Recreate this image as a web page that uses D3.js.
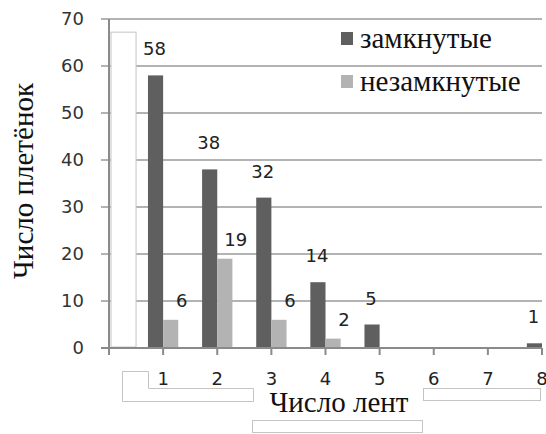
<!DOCTYPE html>
<html>
<head>
<meta charset="utf-8">
<script src="https://cdn.jsdelivr.net/npm/d3@7"></script>
<style>
  html, body { margin: 0; padding: 0; background: #fff; }
  svg { display: block; }
</style>
</head>
<body>
<svg id="chart" width="546" height="434"></svg>
<script>
// ---- data ----
const categories = ["1", "2", "3", "4", "5", "6", "7", "8"];
const closedValues = [58, 38, 32, 14, 5, 0, 0, 1];   // замкнутые
const openValues   = [6, 19, 6, 2, 0, 0, 0, 0];      // незамкнутые
const yTickValues  = [0, 10, 20, 30, 40, 50, 60, 70];
const seriesNames  = ["замкнутые", "незамкнутые"];
const yTitle = "Число плетёнок";
const xTitle = "Число лент";

// ---- layout ----
const svg = d3.select("#chart");
const serif = "'Liberation Serif', 'Times New Roman', serif";
const sans = "'DejaVu Sans', sans-serif";
const colors = ["#5f5f5f", "#b3b3b3"];
const gridColor = "#9a9a9a";
const boxStroke = "#c4c4c4";

const x = d3.scaleLinear().domain([0, categories.length]).range([109, 542]);
const y = d3.scaleLinear().domain([0, 70]).range([348, 19]);
const barW = (x(1) - x(0)) * 0.28;

// gridlines
svg.append("g").selectAll("line").data(yTickValues).join("line")
  .attr("x1", x(0) - 8).attr("x2", x(categories.length))
  .attr("y1", d => y(d)).attr("y2", d => y(d))
  .attr("stroke", gridColor).attr("stroke-width", 1.6);

// decorative white boxes (part of the original picture)
svg.append("rect")
  .attr("x", x(0) + 2).attr("y", y(67.2))
  .attr("width", x(0.5) - x(0) - 2).attr("height", y(0) - y(67.2) - 1)
  .attr("fill", "#fff").attr("stroke", boxStroke).attr("stroke-width", 1);

svg.append("path")
  .attr("d", "M122.5,371.5 H148.5 V388.5 H253.5 V401.5 H122.5 Z")
  .attr("fill", "#fff").attr("stroke", boxStroke).attr("stroke-width", 1);
svg.append("rect")
  .attr("x", 252.5).attr("y", 420.5).attr("width", 170).attr("height", 12)
  .attr("fill", "#fff").attr("stroke", boxStroke).attr("stroke-width", 1);
svg.append("rect")
  .attr("x", 423.5).attr("y", 388.5).attr("width", 117).attr("height", 12)
  .attr("fill", "#fff").attr("stroke", boxStroke).attr("stroke-width", 1);

// bars
const rows = categories.map((c, i) => ({ c, i, v: [closedValues[i], openValues[i]] }));
const g = svg.append("g");
rows.forEach(r => {
  r.v.forEach((v, s) => {
    if (v <= 0) return;
    const cx = x(r.i + 1);
    g.append("rect")
      .attr("x", s === 0 ? cx - barW : cx)
      .attr("y", y(v))
      .attr("width", barW)
      .attr("height", y(0) - y(v))
      .attr("fill", colors[s]);
  });
});

// axes lines
svg.append("line")
  .attr("x1", x(0) - 8).attr("x2", x(categories.length))
  .attr("y1", y(0)).attr("y2", y(0))
  .attr("stroke", "#8a8a8a").attr("stroke-width", 2);
svg.append("line")
  .attr("x1", x(0)).attr("x2", x(0))
  .attr("y1", y(70)).attr("y2", y(0) + 7)
  .attr("stroke", "#8a8a8a").attr("stroke-width", 2);

// x ticks
svg.append("g").selectAll("line").data(d3.range(0, categories.length + 1)).join("line")
  .attr("x1", d => x(d)).attr("x2", d => x(d))
  .attr("y1", y(0)).attr("y2", y(0) + 7)
  .attr("stroke", "#8a8a8a").attr("stroke-width", 2);

// y tick labels
svg.append("g").selectAll("text").data(yTickValues).join("text")
  .attr("x", 84).attr("y", d => y(d))
  .attr("dy", "0.36em")
  .attr("text-anchor", "end")
  .attr("font-family", sans).attr("font-size", 18)
  .attr("fill", "#333")
  .text(d => d);

// x tick labels
svg.append("g").selectAll("text").data(categories).join("text")
  .attr("x", (d, i) => x(i + 1)).attr("y", 385)
  .attr("text-anchor", "middle")
  .attr("font-family", sans).attr("font-size", 18)
  .attr("fill", "#222")
  .text(d => d);

// value labels
rows.forEach(r => {
  r.v.forEach((v, s) => {
    if (v <= 0) return;
    const cx = x(r.i + 1);
    const bx = s === 0 ? cx - barW / 2 - 1 : cx + barW / 2 + 11;
    const by = s === 0 ? y(v) - 20 : y(v) - 13;
    svg.append("text")
      .attr("x", bx).attr("y", by)
      .attr("text-anchor", "middle")
      .attr("font-family", sans).attr("font-size", 18)
      .attr("fill", "#222")
      .text(v);
  });
});

// legend
const legend = svg.append("g");
seriesNames.forEach((name, s) => {
  const ly = 32 + s * 43;
  legend.append("rect")
    .attr("x", 341).attr("y", ly).attr("width", 12).attr("height", 13)
    .attr("fill", colors[s]);
  legend.append("text")
    .attr("x", 360).attr("y", ly + 16)
    .attr("font-family", serif).attr("font-size", 29)
    .attr("fill", "#111")
    .text(name);
});

// axis titles
svg.append("text")
  .attr("transform", "translate(33,181) rotate(-90)")
  .attr("text-anchor", "middle")
  .attr("font-family", serif).attr("font-size", 29)
  .attr("fill", "#111")
  .text(yTitle);

svg.append("text")
  .attr("x", 339).attr("y", 412)
  .attr("text-anchor", "middle")
  .attr("font-family", serif).attr("font-size", 29)
  .attr("fill", "#111")
  .text(xTitle);
</script>
</body>
</html>
